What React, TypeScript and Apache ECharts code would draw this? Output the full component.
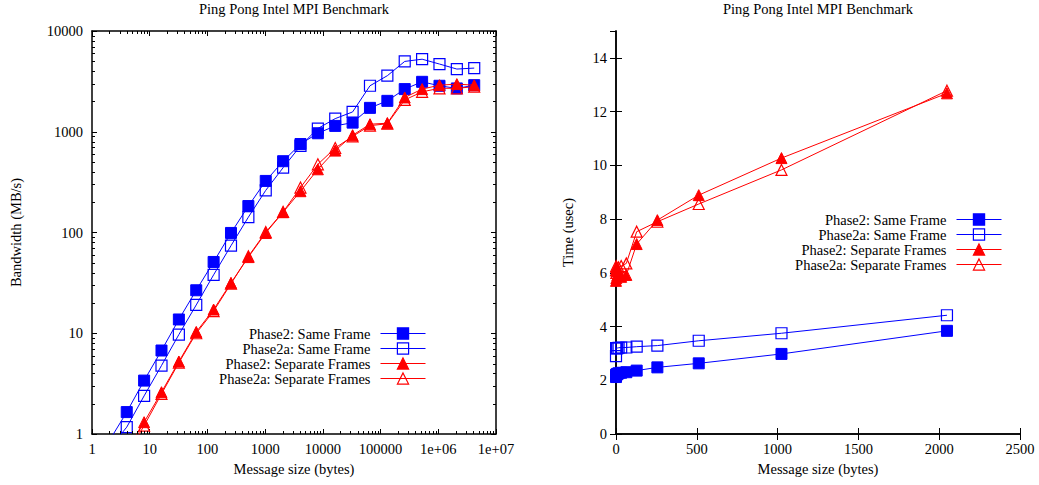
import React, { useEffect, useRef } from 'react';
import * as echarts from 'echarts';

const chartTitle = 'Ping Pong Intel MPI Benchmark';
const seriesNames = ['Phase2: Same Frame', 'Phase2a: Same Frame', 'Phase2: Separate Frames', 'Phase2a: Separate Frames'];

// Left chart: bandwidth vs message size (log-log)
const sizesLog = [1, 2, 4, 8, 16, 32, 64, 128, 256, 512, 1024, 2048, 4096, 8192, 16384, 32768, 65536, 131072, 262144, 524288, 1048576, 2097152, 4194304];
const bwPhase2Same = [0.42, 0.86, 1.65, 3.39, 6.74, 13.7, 26.7, 51, 99, 183, 325, 510, 755, 966, 1143, 1232, 1726, 2026, 2650, 3130, 2860, 2690, 2900];
const bwPhase2aSame = [0.36, 0.72, 1.17, 2.39, 4.78, 9.7, 19.1, 38, 74, 142, 262, 440, 724, 1076, 1350, 1573, 2860, 3600, 4990, 5250, 4700, 4190, 4285];
const bwPhase2Sep = [0.17, 0.34, 0.68, 1.31, 2.6, 5.24, 10.3, 17.2, 31.6, 57, 99, 159, 257, 424, 650, 923, 1188, 1216, 2190, 2650, 2900, 2970, 2900];
const bwPhase2aSep = [0.155, 0.31, 0.62, 1.21, 2.5, 5.1, 10.0, 16.6, 31, 58, 101, 160, 279, 475, 690, 900, 1150, 1200, 2070, 2490, 2700, 2700, 2800];

// Right chart: latency vs message size (linear)
const sizesLin = [0, 1, 2, 4, 8, 16, 32, 64, 128, 256, 512, 1024, 2048];
const timePhase2Same = [2.12, 2.2, 2.2, 2.22, 2.24, 2.26, 2.28, 2.3, 2.36, 2.48, 2.63, 2.98, 3.84];
const timePhase2aSame = [2.9, 3.2, 3.2, 3.2, 3.2, 3.21, 3.22, 3.22, 3.25, 3.29, 3.47, 3.75, 4.42];
const timePhase2Sep = [5.7, 6.2, 5.8, 6.05, 5.9, 6.0, 5.85, 5.92, 7.07, 7.96, 8.89, 10.27, 12.68];
const timePhase2aSep = [6.1, 6.25, 6.0, 6.1, 6.15, 6.2, 6.25, 6.35, 7.53, 7.9, 8.56, 9.83, 12.78];

// Tick labels
const logXLabels = ['1', '10', '100', '1000', '10000', '100000', '1e+06', '1e+07'];
const logYLabels = ['1', '10', '100', '1000', '10000'];
const minorMantissas = [2, 3, 4, 5, 6, 7, 8, 9];
const logXDecades = [1, 10, 100, 1000, 10000, 100000, 1000000];
const logYDecades = [1, 10, 100, 1000];

const FONT = "'Liberation Serif', 'Times New Roman', serif";
const FS = 14.5;
const BLUE = '#0000ff';
const RED = '#ff0000';

const OPEN_SQUARE = 'path://M0,0L10,0L10,10L0,10Z';
const OPEN_TRIANGLE = 'path://M5,0L10,10L0,10Z';

const seriesStyles = [
  { symbol: 'rect', color: BLUE, open: false },
  { symbol: OPEN_SQUARE, color: BLUE, open: true },
  { symbol: 'triangle', color: RED, open: false },
  { symbol: OPEN_TRIANGLE, color: RED, open: true },
];

function lineSeries(idx: number, xs: number[], ys: number[], xi: number, yi: number) {
  const st = seriesStyles[idx];
  return {
    type: 'line',
    name: seriesNames[idx],
    xAxisIndex: xi,
    yAxisIndex: yi,
    data: xs.map((x, i) => [x, ys[i]]),
    symbol: st.symbol,
    symbolSize: 11,
    showAllSymbol: true,
    clip: true,
    lineStyle: { color: st.color, width: 1 },
    itemStyle: st.open
      ? { color: 'rgba(255,255,255,0)', borderColor: st.color, borderWidth: 1.2 }
      : { color: st.color, borderColor: st.color, borderWidth: 1 },
    emphasis: { disabled: true },
    z: 3 + idx,
  };
}

function minorTicks(axis: 'x' | 'y', decades: number[]) {
  const vals: number[] = [];
  decades.forEach((d) => minorMantissas.forEach((m) => vals.push(m * d)));
  return {
    type: 'custom',
    xAxisIndex: 0,
    yAxisIndex: 0,
    silent: true,
    clip: false,
    z: 10,
    data: vals.map((v) => (axis === 'x' ? [v, 1] : [1, v])),
    renderItem: (params: any, api: any) => {
      const cs = params.coordSys;
      const p = api.coord([api.value(0), api.value(1)]);
      const st = { stroke: '#000', lineWidth: 1 };
      if (axis === 'x') {
        const x = Math.round(p[0]) + 0.5;
        return {
          type: 'group',
          children: [
            { type: 'line', shape: { x1: x, y1: cs.y + cs.height, x2: x, y2: cs.y + cs.height - 3 }, style: st },
            { type: 'line', shape: { x1: x, y1: cs.y, x2: x, y2: cs.y + 3 }, style: st },
          ],
        };
      }
      const y = Math.round(p[1]) + 0.5;
      return {
        type: 'group',
        children: [
          { type: 'line', shape: { x1: cs.x, y1: y, x2: cs.x + 3, y2: y }, style: st },
          { type: 'line', shape: { x1: cs.x + cs.width, y1: y, x2: cs.x + cs.width - 3, y2: y }, style: st },
        ],
      };
    },
  };
}

const textBase = { color: '#000', fontFamily: FONT, fontSize: FS };
const axisLineStyle = { show: true, lineStyle: { color: '#000', width: 1.5 } };

function baseAxis(extra: any, tickLen: number, showLabel: boolean) {
  return {
    axisLine: axisLineStyle,
    axisTick: { show: true, inside: true, length: tickLen, lineStyle: { color: '#000', width: 1 } },
    splitLine: { show: false },
    axisLabel: { show: showLabel, ...textBase, margin: 7, formatter: (v: number) => String(v) },
    nameTextStyle: { ...textBase },
    ...extra,
  };
}

const logXFmt = (v: number) => logXLabels[Math.round(Math.log10(v))] ?? '';
const logYFmt = (v: number) => logYLabels[Math.round(Math.log10(v))] ?? '';

export default function App() {
  const ref = useRef<HTMLDivElement>(null);
  useEffect(() => {
    if (!ref.current) return;
    const chart = echarts.init(ref.current, undefined, { renderer: 'svg' });
    const legendCommon = {
      orient: 'vertical',
      align: 'right',
      padding: 0,
      itemGap: 0,
      itemWidth: 45,
      itemHeight: 14,
      selectedMode: false,
      data: seriesNames,
      itemStyle: { borderWidth: 1.2 },
      lineStyle: { width: 1 },
      textStyle: { ...textBase, lineHeight: 14.7, padding: [0, 5, 0, 0] },
    };
    const option: any = {
      animation: false,
      backgroundColor: '#fff',
      title: [
        { text: chartTitle, left: 294, top: 1, textAlign: 'center', padding: 0, textStyle: { ...textBase, fontWeight: 'normal' } },
        { text: chartTitle, left: 818, top: 1, textAlign: 'center', padding: 0, textStyle: { ...textBase, fontWeight: 'normal' } },
      ],
      legend: [
        { ...legendCommon, right: 613, top: 326 },
        { ...legendCommon, right: 37, top: 212 },
      ],
      grid: [
        { left: 92, top: 31, width: 404, height: 403, outerBoundsMode: 'none', containLabel: false },
        { left: 616, top: 31, width: 404, height: 403, outerBoundsMode: 'none', containLabel: false },
      ],
      xAxis: [
        baseAxis({ gridIndex: 0, type: 'log', logBase: 10, min: 1, max: 1e7, interval: 1, position: 'bottom',
          axisLabel: { show: true, ...textBase, margin: 7, formatter: logXFmt },
          name: 'Message size (bytes)', nameLocation: 'middle', nameGap: 27 }, 5, true),
        baseAxis({ gridIndex: 0, type: 'log', logBase: 10, min: 1, max: 1e7, interval: 1, position: 'top' }, 5, false),
        baseAxis({ gridIndex: 1, type: 'value', min: 0, max: 2500, interval: 500, position: 'bottom',
          name: 'Message size (bytes)', nameLocation: 'middle', nameGap: 27 }, 6, true),
        baseAxis({ gridIndex: 1, type: 'value', min: 0, max: 2500, interval: 500, position: 'top' }, 6, false),
      ],
      yAxis: [
        baseAxis({ gridIndex: 0, type: 'log', logBase: 10, min: 1, max: 10000, interval: 1, position: 'left',
          axisLabel: { show: true, ...textBase, margin: 9, formatter: logYFmt },
          name: 'Bandwidth (MB/s)', nameLocation: 'middle', nameGap: 69 }, 5, true),
        baseAxis({ gridIndex: 0, type: 'log', logBase: 10, min: 1, max: 10000, interval: 1, position: 'right' }, 5, false),
        baseAxis({ gridIndex: 1, type: 'value', min: 0, max: 15, interval: 2, position: 'left',
          axisLabel: { show: true, ...textBase, margin: 9, showMaxLabel: false, formatter: (v: number) => String(v) },
          name: 'Time (usec)', nameLocation: 'middle', nameGap: 41 }, 6, true),
        baseAxis({ gridIndex: 1, type: 'value', min: 0, max: 15, interval: 2, position: 'right' }, 6, false),
      ],
      series: [
        lineSeries(0, sizesLog, bwPhase2Same, 0, 0),
        lineSeries(1, sizesLog, bwPhase2aSame, 0, 0),
        lineSeries(2, sizesLog, bwPhase2Sep, 0, 0),
        lineSeries(3, sizesLog, bwPhase2aSep, 0, 0),
        lineSeries(0, sizesLin, timePhase2Same, 2, 2),
        lineSeries(1, sizesLin, timePhase2aSame, 2, 2),
        lineSeries(2, sizesLin, timePhase2Sep, 2, 2),
        lineSeries(3, sizesLin, timePhase2aSep, 2, 2),
        minorTicks('x', logXDecades),
        minorTicks('y', logYDecades),
      ],
    };
    chart.setOption(option);
    return () => chart.dispose();
  }, []);
  return <div ref={ref} style={{ position: 'fixed', left: 0, top: 0, width: 1039, height: 485, background: '#fff' }} />;
}
